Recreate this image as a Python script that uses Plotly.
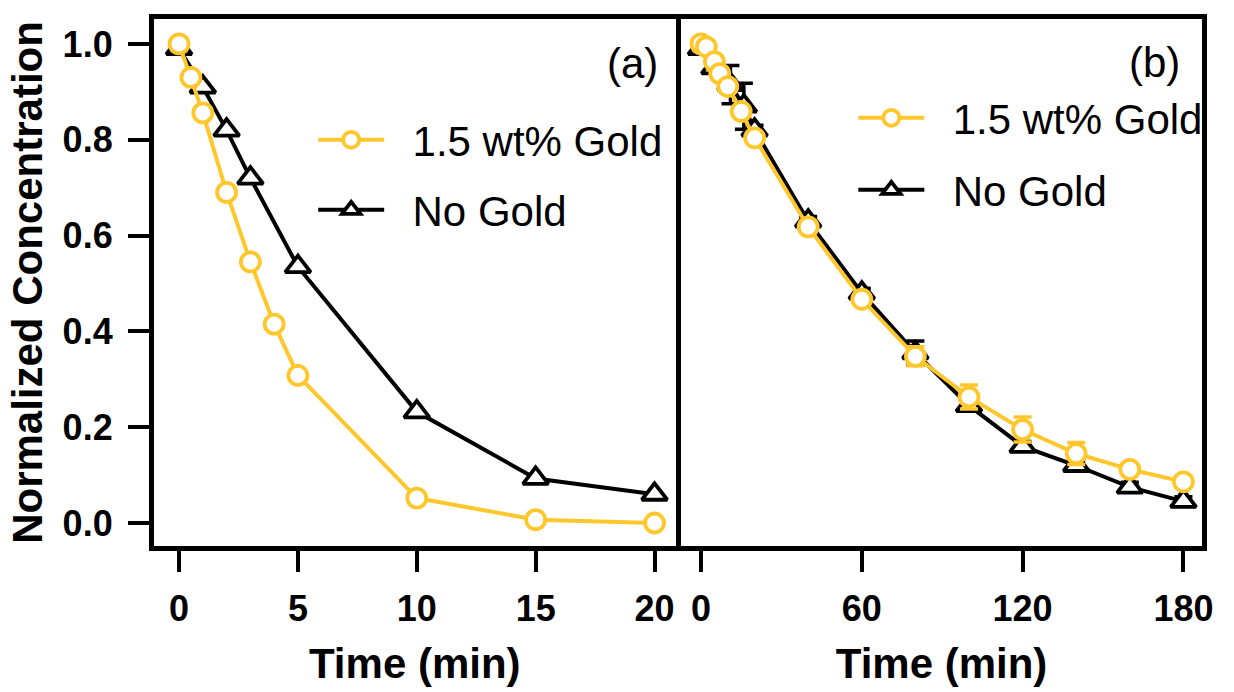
import plotly.graph_objects as go

# ---- data ----
# (a) short-time kinetics (min)
t_a_gold = [0, 0.5, 1, 2, 3, 4, 5, 10, 15, 20]
c_a_gold = [1.0, 0.93, 0.856, 0.69, 0.545, 0.415, 0.308, 0.052, 0.007, 0.0]

t_a_none = [0, 1, 2, 3, 5, 10, 15, 20]
c_a_none = [0.99, 0.91, 0.82, 0.72, 0.535, 0.232, 0.093, 0.06]

# (b) long-time kinetics (min)
t_b_gold = [0, 2, 5, 7, 10, 15, 20, 40, 60, 80, 100, 120, 140, 160, 180]
c_b_gold = [1.0, 0.994, 0.963, 0.938, 0.911, 0.859, 0.804, 0.618, 0.467,
            0.348, 0.263, 0.195, 0.145, 0.112, 0.086]
e_b_gold = [0.005, 0.005, 0.005, 0.005, 0.005, 0.005, 0.005, 0.01, 0.01,
            0.02, 0.025, 0.026, 0.023, 0.01, 0.008]

t_b_none = [0, 5, 11, 16, 20, 40, 60, 80, 100, 120, 140, 160, 180]
c_b_none = [0.99, 0.95, 0.915, 0.87, 0.82, 0.63, 0.48, 0.355, 0.245, 0.16,
            0.12, 0.075, 0.045]
e_b_none = [0.005, 0.01, 0.04, 0.048, 0.01, 0.01, 0.01, 0.025, 0.01, 0.01,
            0.01, 0.01, 0.01]

x_ticks_a = [0, 5, 10, 15, 20]
x_ticks_b = [0, 60, 120, 180]
y_ticks = [0.0, 0.2, 0.4, 0.6, 0.8, 1.0]

# legend labels (leading no-break spaces widen the gap after the symbol)
label_gold = "\u00a0\u00a01.5 wt% Gold"
label_none = "\u00a0\u00a0No Gold"

GOLD = "#FFC72C"
BLACK = "#000000"
W, H = 1234, 692
FONT = "Liberation Sans, Arial, sans-serif"
LW = 4          # data line width
FRAME = 4.5     # frame / axis line width

circle = dict(symbol="circle", size=19, color="white",
              line=dict(color=GOLD, width=3.8))
triangle = dict(symbol="triangle-up", size=22, color="white",
                line=dict(color=BLACK, width=3.8))

fig = go.Figure()

# panel (a)
fig.add_trace(go.Scatter(x=t_a_none, y=c_a_none, mode="lines+markers",
                         name=label_none, line=dict(color=BLACK, width=LW),
                         marker=triangle, xaxis="x", yaxis="y",
                         legend="legend2"))
fig.add_trace(go.Scatter(x=t_a_gold, y=c_a_gold, mode="lines+markers",
                         name=label_gold, line=dict(color=GOLD, width=LW),
                         marker=circle, xaxis="x", yaxis="y",
                         legend="legend"))

# panel (b)
fig.add_trace(go.Scatter(x=t_b_none, y=c_b_none, mode="lines+markers",
                         name=label_none, line=dict(color=BLACK, width=LW),
                         marker=triangle, xaxis="x2", yaxis="y2",
                         error_y=dict(type="data", array=e_b_none, color=BLACK,
                                      thickness=3.5, width=9),
                         legend="legend4"))
fig.add_trace(go.Scatter(x=t_b_gold, y=c_b_gold, mode="lines+markers",
                         name=label_gold, line=dict(color=GOLD, width=LW),
                         marker=circle, xaxis="x2", yaxis="y2",
                         error_y=dict(type="data", array=e_b_gold, color=GOLD,
                                      thickness=3.5, width=9),
                         legend="legend3"))


def px_x(p):
    return p / W


def px_y(p):
    return 1 - p / H


tick_font = dict(family=FONT, size=36, color="black", weight="bold")
title_font = dict(family=FONT, size=42, color="black", weight="bold")

axis_common = dict(showline=True, linewidth=FRAME, linecolor="black",
                   showgrid=False, zeroline=False,
                   ticks="outside", ticklen=21, tickwidth=4,
                   tickcolor="black", tickfont=tick_font)

x_a_dom = [px_x(155), px_x(682)]
x_b_dom = [px_x(687), px_x(1213)]
y_dom = [px_y(546), px_y(19)]

legend_common = dict(bgcolor="rgba(0,0,0,0)", borderwidth=0,
                     font=dict(family=FONT, size=42, color="black"),
                     xanchor="left", yanchor="middle", itemwidth=66,
                     itemsizing="trace")

fig.update_layout(
    width=W, height=H,
    margin=dict(l=0, r=0, t=0, b=0),
    paper_bgcolor="white", plot_bgcolor="rgba(0,0,0,0)",
    showlegend=True,
    xaxis=dict(domain=x_a_dom, range=[-1.07, 20.9], tickvals=x_ticks_a,
               ticktext=[str(v) for v in x_ticks_a], anchor="y", mirror=True,
               title=dict(text="Time (min)", font=title_font, standoff=22),
               ticklabelstandoff=6, **axis_common),
    # the divider between the panels is drawn by panel (b)'s left border
    yaxis=dict(domain=y_dom, range=[-0.048, 1.052], tickvals=y_ticks,
               ticktext=[f"{v:.1f}" for v in y_ticks], anchor="x",
               mirror=False,
               title=dict(text="Normalized Concentration", font=title_font,
                          standoff=8),
               ticklabelstandoff=8, **axis_common),
    xaxis2=dict(domain=x_b_dom, range=[-7.5, 187], tickvals=x_ticks_b,
                ticktext=[str(v) for v in x_ticks_b], anchor="y2",
                mirror=True,
                title=dict(text="Time (min)", font=title_font, standoff=22),
                ticklabelstandoff=6, **axis_common),
    yaxis2=dict(domain=y_dom, range=[-0.048, 1.052], anchor="x2",
                matches="y", showline=True, linewidth=FRAME,
                linecolor="black", mirror=True, showgrid=False,
                zeroline=False, showticklabels=False, ticks=""),
    legend=dict(x=px_x(316), y=px_y(140), **legend_common),
    legend2=dict(x=px_x(316), y=px_y(210), **legend_common),
    legend3=dict(x=px_x(861), y=px_y(118), **legend_common),
    legend4=dict(x=px_x(861), y=px_y(190), **legend_common),
    annotations=[
        dict(text="(a)", x=px_x(638), y=px_y(64), xref="paper", yref="paper",
             showarrow=False, xanchor="center", yanchor="middle",
             font=dict(family=FONT, size=42, color="black")),
        dict(text="(b)", x=px_x(1165), y=px_y(62), xref="paper", yref="paper",
             showarrow=False, xanchor="center", yanchor="middle",
             font=dict(family=FONT, size=42, color="black")),
    ],
)

fig.write_html("out.html")
